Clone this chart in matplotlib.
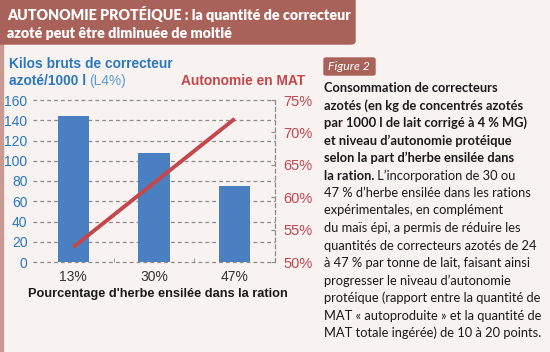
import numpy as np
import matplotlib
matplotlib.use('Agg')
import matplotlib.pyplot as plt
from matplotlib.patches import FancyBboxPatch, Rectangle

# Data
categories = ['13%', '30%', '47%']
kilos = [144, 108, 75]
autonomie = [52.3, 62.2, 72.1]
left_ticks = [0, 20, 40, 60, 80, 100, 120, 140, 160]
right_ticks = [50, 55, 60, 65, 70, 75]

header_lines = ['AUTONOMIE PROTÉIQUE : la quantité de correcteur',
                'azoté peut être diminuée de moitié']
bold_lines = ['Consommation de correcteurs',
              'azotés (en kg de concentrés azotés',
              'par 1000 l de lait corrigé à 4 % MG)',
              'et niveau d\u2019autonomie protéique',
              'selon la part d\u2019herbe ensilée dans',
              'la ration.']
normal_lines = [' L\u2019incorporation de 30 ou',
                '47 % d\u2019herbe ensilée dans les rations',
                'expérimentales, en complément',
                'du maïs épi, a permis de réduire les',
                'quantités de correcteurs azotés de 24',
                'à 47 % par tonne de lait, faisant ainsi',
                'progresser le niveau d\u2019autonomie',
                'protéique (rapport entre la quantité de',
                'MAT « autoproduite » et la quantité de',
                'MAT totale ingérée) de 10 à 20 points.']

W, H = 550, 352
bg = '#f8f2f1'
brown = '#a8625a'
blue_bar = '#4a7fc1'
blue_txt = '#2a78c2'
red = '#c4474c'
grey = '#8c8c8c'

fig = plt.figure(figsize=(W / 100, H / 100), dpi=100)
fig.patch.set_facecolor(bg)

def fx(x):
    return x / W

def fy(y):
    return 1 - y / H

# header box and left border
fig.patches.append(Rectangle((0, fy(352)), fx(2.5), 1, transform=fig.transFigure,
                             color='#c99a92', zorder=0))
fig.patches.append(FancyBboxPatch((fx(-10), fy(44)), fx(365), fy(-20) - fy(44),
                                  boxstyle='round,pad=0,rounding_size=0.008',
                                  transform=fig.transFigure, color=brown, zorder=1))
fig.text(fx(7), fy(14), header_lines[0], color='white', fontsize=10.3,
         family='Lato', weight='heavy', va='center')
fig.text(fx(7), fy(34), header_lines[1], color='white', fontsize=10.3,
         family='Lato', weight='heavy', va='center')

# chart
ax = fig.add_axes([fx(33), fy(262), fx(275) - fx(33), fy(100) - fy(262)])
ax.set_facecolor('none')
x = np.arange(len(categories))
ax.bar(x, kilos, width=0.39, color=blue_bar, zorder=2)
ax.set_xlim(-0.5, 2.5)
ax.set_ylim(0, 160)
ax.set_yticks(left_ticks)
ax.set_xticks(x)
ax.set_xticklabels(categories)
ax.set_xticks([0.5, 1.5], minor=True)
for yv in left_ticks:
    ax.axhline(yv, color=grey, lw=0.9, ls=(0, (3, 2.5)), zorder=1, clip_on=False)
for s in ['top', 'left', 'bottom', 'right']:
    ax.spines[s].set_visible(False)
ax.tick_params(axis='y', length=0, labelsize=10, labelcolor=blue_txt, pad=4)
ax.tick_params(axis='x', which='major', length=0, labelsize=10, labelcolor='#333333', pad=6)
ax.tick_params(axis='x', which='minor', length=3, direction='in', color=grey)
for lab in ax.get_xticklabels() + ax.get_yticklabels():
    lab.set_family('Liberation Sans')

ax2 = ax.twinx()
ax2.plot(x, autonomie, color=red, lw=2.8, solid_capstyle='butt', zorder=3)
ax2.set_ylim(50, 75)
ax2.set_yticks(right_ticks)
ax2.set_yticklabels(['%d%%' % v for v in right_ticks])
for s in ['top', 'left', 'bottom']:
    ax2.spines[s].set_visible(False)
ax2.spines['right'].set_color(grey)
ax2.spines['right'].set_linewidth(0.9)
ax2.spines['right'].set_linestyle((0, (3, 2.5)))
ax2.tick_params(axis='y', length=3, direction='in', color=grey, labelsize=10.5,
                labelcolor=red, pad=6)
for lab in ax2.get_yticklabels():
    lab.set_family('Liberation Sans')

# axis titles
fig.text(fx(9), fy(64), 'Kilos bruts de correcteur', color=blue_txt, fontsize=9.9,
         family='Liberation Sans', weight='bold', va='center')
t1 = fig.text(fx(9), fy(81), 'azoté/1000 l', color=blue_txt, fontsize=9.9,
              family='Liberation Sans', weight='bold', va='center')
fig.text(fx(305), fy(81), 'Autonomie en MAT', color=red, fontsize=9.9,
         family='Liberation Sans', weight='bold', va='center', ha='right')
fig.text(fx(158), fy(294), 'Pourcentage d\'herbe ensilée dans la ration', color='#1a1a1a',
         fontsize=9.2, family='Liberation Sans', weight='bold', va='center', ha='center')

renderer = fig.canvas.get_renderer()
bb = t1.get_window_extent(renderer)
fig.text(bb.x1 / W + fx(3), fy(81), '(L4%)', color='#5a9ad6', fontsize=9.9,
         family='Liberation Sans', va='center')

# figure tag
fig.patches.append(FancyBboxPatch((fx(324), fy(75)), fx(51), fy(58) - fy(75),
                                  boxstyle='round,pad=0,rounding_size=0.004',
                                  transform=fig.transFigure, color=brown, zorder=1))
fig.text(fx(328), fy(66.5), 'Figure 2', color='white', fontsize=8.8, family='Lato',
         style='italic', va='center')

# paragraph
y0 = 88
dy = 17.5
last = None
for i, line in enumerate(bold_lines):
    last = fig.text(fx(324), fy(y0 + i * dy), line, color='#1a1a1a', fontsize=9.3,
                    family='Lato', weight='bold', va='center')
row = len(bold_lines) - 1
bb = last.get_window_extent(renderer)
fig.text(bb.x1 / W, fy(y0 + row * dy), normal_lines[0], color='#1a1a1a', fontsize=9.3,
         family='Lato', va='center')
for j, line in enumerate(normal_lines[1:]):
    fig.text(fx(324), fy(y0 + (row + 1 + j) * dy), line, color='#1a1a1a', fontsize=9.3,
             family='Lato', va='center')

fig.savefig('out.png', dpi=100, facecolor=bg)
